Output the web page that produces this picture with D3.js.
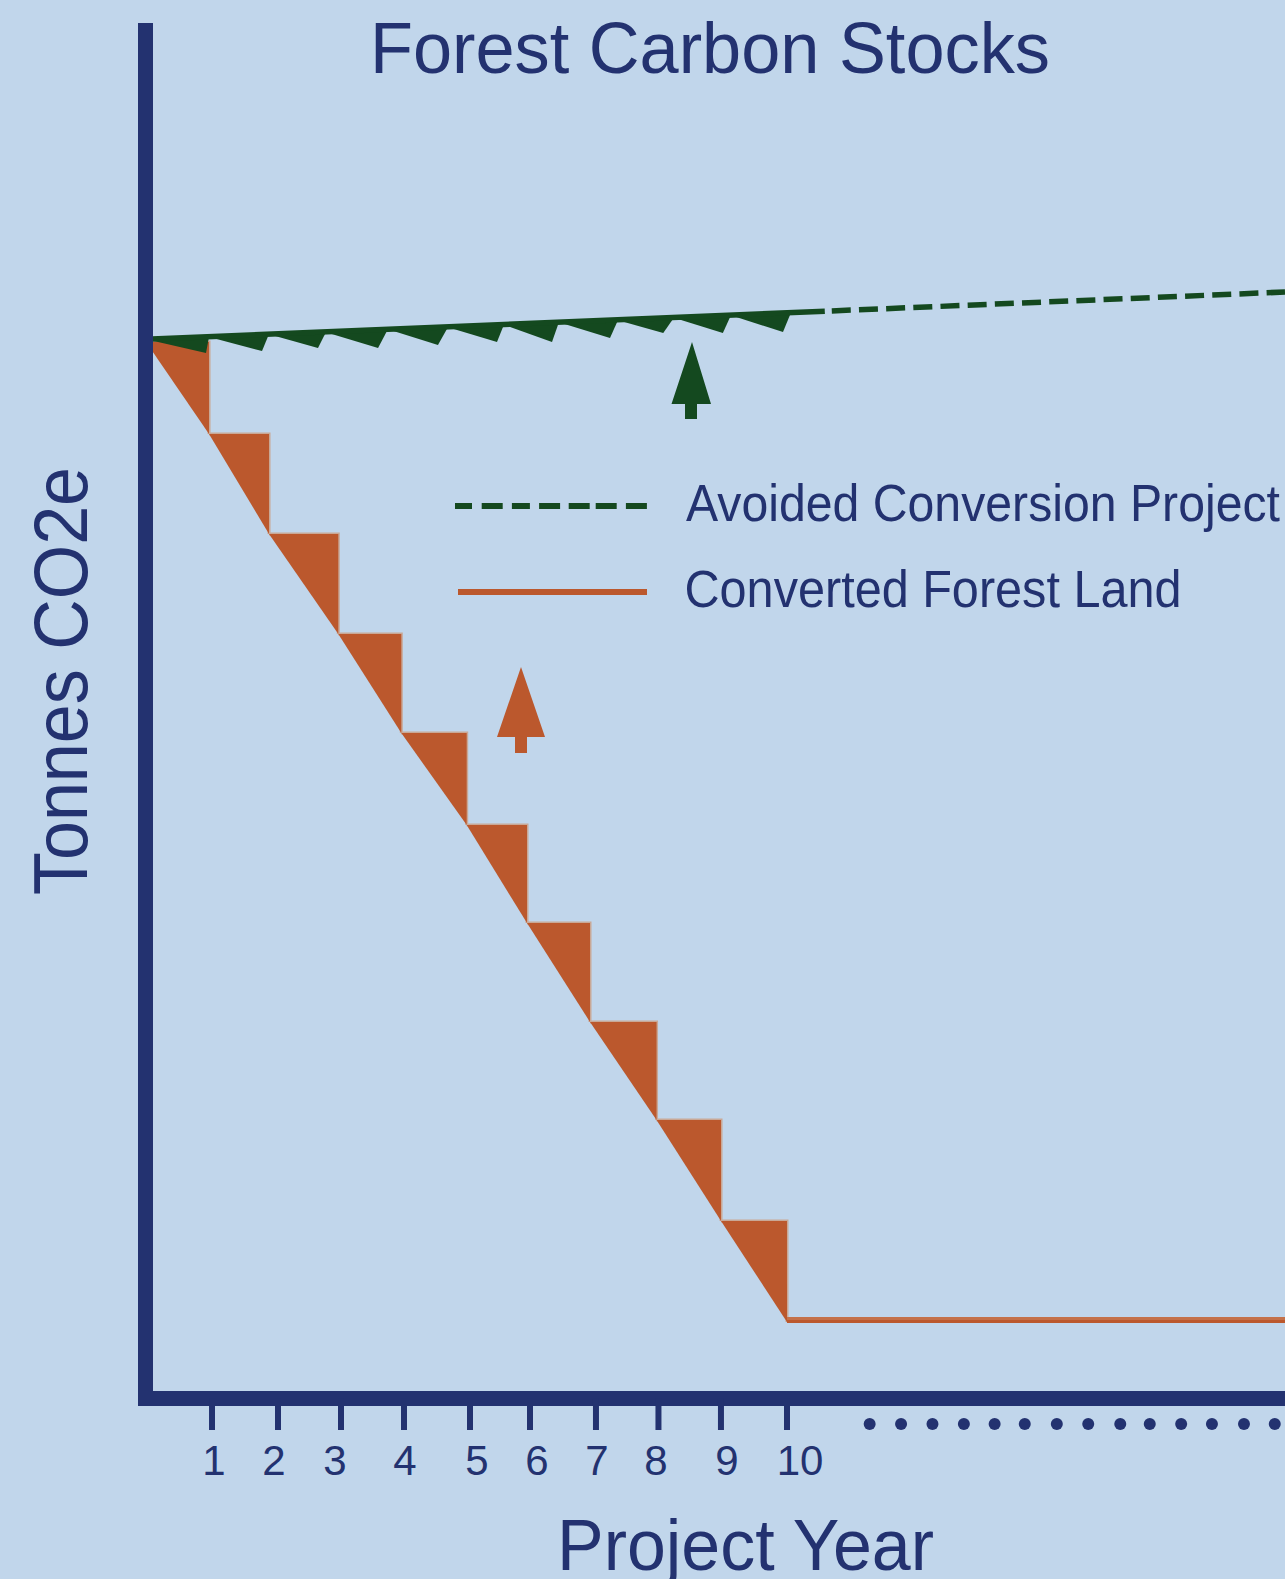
<!DOCTYPE html>
<html>
<head>
<meta charset="utf-8">
<title>Forest Carbon Stocks</title>
<script src="https://cdnjs.cloudflare.com/ajax/libs/d3/7.8.5/d3.min.js"></script>
<style>
  html, body { margin: 0; padding: 0; background: #c1d6eb; overflow: hidden; }
  svg { display: block; }
  text { font-family: "Liberation Sans", Arial, sans-serif; fill: #233270; }
</style>
</head>
<body>
<svg id="chart" width="1285" height="1579"></svg>
<script>
// Converted land: stair-step treads, in project years and tonnes CO2e
const convertedYears = [0, 0.983, 1.919, 3.000, 3.983, 5.003, 5.944, 6.927, 7.965, 8.971, 10];
const convertedStock = [1056, 964, 864, 764, 665, 573, 475, 376, 278, 177, 76];
const convertedFlatYears = [10, 17.77];
const convertedFlatStock = [76.5, 76.5];

// Avoided conversion project: stock line and the annual growth wedges under it
const projectSolidYears = [0, 10.59];
const projectSolidStock = [1058.7, 1086.8];
const projectDashYears = [10.59, 17.77];
const projectDashStock = [1086.8, 1106];
const wedgeStartYears = [0, 0.983, 1.903, 2.793, 3.760, 4.696, 5.569, 6.427, 7.348, 8.222, 9.111];
const wedgeStartStock = [1058.7, 1061, 1064, 1066, 1069, 1071, 1073.5, 1076, 1078, 1080.5, 1083];
const wedgeTipYears = [0.936, 1.810, 2.683, 3.620, 4.555, 5.476, 6.334, 7.239, 8.070, 9.0, 9.938];
const wedgeTipStock = [1045, 1047, 1050, 1050, 1053, 1056, 1056, 1060, 1065, 1065, 1066];
const wedgeEndYears = [0.983, 1.919, 2.809, 3.776, 4.712, 5.585, 6.443, 7.364, 8.238, 9.127, 10.063];
const wedgeEndStock = [1061, 1064, 1066, 1069, 1071, 1073.5, 1076, 1078, 1080.5, 1083, 1085.5];

// Year axis: hand-placed ticks, labels and the trailing dots
const tickYears = [1.030, 2.059, 3.042, 4.025, 5.055, 5.991, 7.020, 7.995, 8.970, 10];
const tickLabels = ["1", "2", "3", "4", "5", "6", "7", "8", "9", "10"];
const tickLabelYears = [1.060, 1.997, 2.949, 4.041, 5.164, 6.100, 7.036, 7.956, 9.064, 10.203];
const dotYears = [11.29, 11.78, 12.27, 12.76, 13.24, 13.71, 14.21, 14.70, 15.20, 15.66, 16.15, 16.63, 17.13, 17.61];

const titleText = "Forest Carbon Stocks";
const xTitleText = "Project Year";
const yTitleText = "Tonnes CO2e";
const legendLabels = ["Avoided Conversion Project", "Converted Forest Land"];

const navy = "#233270", green = "#14491f", orange = "#bb582d";
const orangeEdge = "#c9a896", orangeSoft = "#c4714a";

const svg = d3.select("#chart");
const x = d3.scaleLinear().domain([-0.125, 17.77]).range([138, 1285]);
const y = d3.scaleLinear().domain([-8, 1375]).range([1406, 23]);
const line = d3.line().x(d => x(d[0])).y(d => y(d[1]));

// Converted land wedges: each tread runs right, then drops to the next tread
const steps = d3.range(convertedYears.length - 1).map(i => [
  [convertedYears[i], convertedStock[i]],
  [convertedYears[i + 1], convertedStock[i]],
  [convertedYears[i + 1], convertedStock[i + 1]]
]);
// Pale rim on the top and right edges, showing past the fill
svg.append("g").selectAll("path").data(steps).join("path")
  .attr("d", d => line(d))
  .attr("fill", "none")
  .attr("stroke", orangeEdge)
  .attr("stroke-width", 3);
svg.append("g").selectAll("path").data(steps).join("path")
  .attr("d", d => line(d) + "Z")
  .attr("fill", orange);

const flat = d3.zip(convertedFlatYears, convertedFlatStock);
svg.append("path")
  .attr("d", line(flat))
  .attr("fill", "none")
  .attr("stroke", orange)
  .attr("stroke-width", 3);
svg.append("path")
  .attr("d", line(flat.map(d => [d[0], d[1] + 3])))
  .attr("fill", "none")
  .attr("stroke", orangeSoft)
  .attr("stroke-width", 3);

// Project wedges and stock line
const wedges = wedgeStartYears.map((_, i) => [
  [wedgeStartYears[i], wedgeStartStock[i]],
  [wedgeTipYears[i], wedgeTipStock[i]],
  [wedgeEndYears[i], wedgeEndStock[i]]
]);
svg.append("g").selectAll("path").data(wedges).join("path")
  .attr("d", d => line(d) + "Z")
  .attr("fill", green);

svg.append("path")
  .attr("d", line(d3.zip(projectSolidYears, projectSolidStock)))
  .attr("fill", "none")
  .attr("stroke", green)
  .attr("stroke-width", 5.5);

svg.append("path")
  .attr("d", line(d3.zip(projectDashYears, projectDashStock)))
  .attr("fill", "none")
  .attr("stroke", green)
  .attr("stroke-width", 5.5)
  .attr("stroke-dasharray", "19 8.2")
  .attr("stroke-dashoffset", -7);

// Axes
svg.append("g")
  .attr("transform", "translate(145.5,0)")
  .call(d3.axisLeft(y).tickValues([]).tickSizeOuter(0).offset(0))
  .call(g => g.select(".domain").attr("stroke", navy).attr("stroke-width", 15));

svg.append("g")
  .attr("transform", "translate(0,1398.5)")
  .call(d3.axisBottom(x).tickValues(tickYears).tickSize(31.5).tickSizeOuter(0).tickFormat("").offset(0))
  .call(g => g.select(".domain").attr("stroke", navy).attr("stroke-width", 15))
  .call(g => g.selectAll(".tick line").attr("stroke", navy).attr("stroke-width", 6));

svg.append("g").selectAll("text").data(tickLabels).join("text")
  .attr("x", (d, i) => x(tickLabelYears[i]))
  .attr("y", 1475)
  .attr("text-anchor", "middle")
  .attr("font-size", 42)
  .text(d => d);

svg.append("g").selectAll("circle").data(dotYears).join("circle")
  .attr("cx", d => x(d))
  .attr("cy", 1424)
  .attr("r", 6)
  .attr("fill", navy);

// Titles
svg.append("text")
  .attr("x", 370).attr("y", 73)
  .attr("font-size", 72)
  .attr("textLength", 680).attr("lengthAdjust", "spacingAndGlyphs")
  .text(titleText);

svg.append("text")
  .attr("x", 557).attr("y", 1570)
  .attr("font-size", 72)
  .attr("textLength", 377).attr("lengthAdjust", "spacingAndGlyphs")
  .text(xTitleText);

svg.append("text")
  .attr("transform", "translate(87,895) rotate(-90)")
  .attr("font-size", 76)
  .attr("textLength", 428).attr("lengthAdjust", "spacingAndGlyphs")
  .text(yTitleText);

// Legend
svg.append("line")
  .attr("x1", 455).attr("x2", 647).attr("y1", 506).attr("y2", 506)
  .attr("stroke", green).attr("stroke-width", 6)
  .attr("stroke-dasharray", "17 9.7 21 9.2 18 9.2 21 8.6 21 6 21 9.2 21");
svg.append("line")
  .attr("x1", 458).attr("x2", 647).attr("y1", 592).attr("y2", 592)
  .attr("stroke", orange).attr("stroke-width", 6);

svg.append("text")
  .attr("x", 686).attr("y", 521)
  .attr("font-size", 52)
  .attr("textLength", 594).attr("lengthAdjust", "spacingAndGlyphs")
  .text(legendLabels[0]);
svg.append("text")
  .attr("x", 684.5).attr("y", 607)
  .attr("font-size", 51)
  .attr("textLength", 497).attr("lengthAdjust", "spacingAndGlyphs")
  .text(legendLabels[1]);

// Upward arrows: the carbon gain for each line
const arrow = d3.line();
svg.append("path")
  .attr("d", arrow([[692, 342], [711, 404], [697, 404], [697, 419], [685, 419], [685, 404], [671.5, 404]]) + "Z")
  .attr("fill", green);
svg.append("path")
  .attr("d", arrow([[521, 667], [545, 737], [527, 737], [527, 753], [515, 753], [515, 737], [497, 737]]) + "Z")
  .attr("fill", orange);
</script>
</body>
</html>
